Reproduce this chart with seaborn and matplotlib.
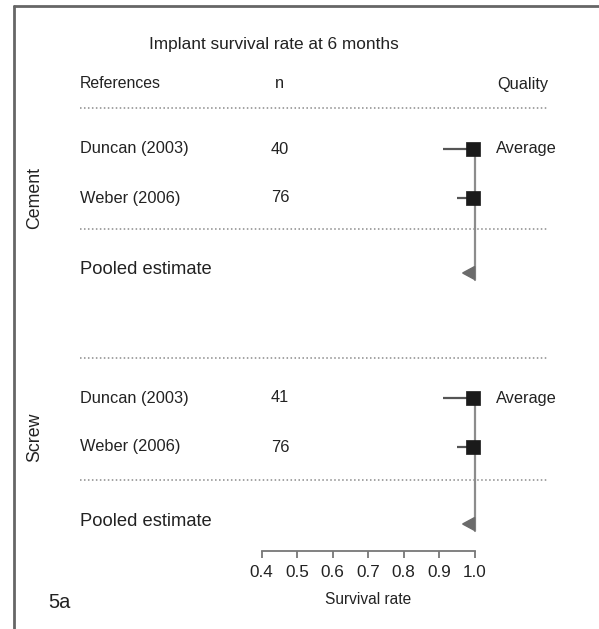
import matplotlib
matplotlib.use("Agg")
import matplotlib.pyplot as plt
import matplotlib.transforms as mtransforms
from matplotlib.lines import Line2D
from matplotlib.patches import Polygon
import numpy as np
import pandas as pd
import seaborn as sns

# ---- data ----
groups = ["Cement", "Screw"]
studies = ["Duncan (2003)", "Weber (2006)"]
n_cement = [40, 76]
n_screw = [41, 76]
est_cement = [0.996, 0.996]
lo_cement = [0.911, 0.951]
est_screw = [0.996, 0.996]
lo_screw = [0.912, 0.951]
hi_all = 1.0
pooled_lo = [0.966, 0.966]
pooled_hi = [1.0, 1.0]
quality = ["Average", ""]
xticks = [0.4, 0.5, 0.6, 0.7, 0.8, 0.9, 1.0]

sns.set_theme(style="white")
plt.rcParams["font.family"] = ["Liberation Sans", "DejaVu Sans"]

W, H = 599, 629
fig = plt.figure(figsize=(W / 100, H / 100), dpi=100)
ax = fig.add_axes([0, 0, 1, 1])

# x scale: 0.4 -> 261.7 px, 1.0 -> 474.7 px
ppu = 355.0
x0 = 0.4 - 261.7 / ppu
ax.set_xlim(x0, x0 + W / ppu)
ax.set_ylim(H, 0)

# layout rows (vertical positions)
y_header = 84
rows = {
    "Cement": dict(top_sep=108, study=[149, 198], bot_sep=229, pooled=273, label=198),
    "Screw": dict(top_sep=358, study=[398, 447], bot_sep=480, pooled=524, label=437),
}
y_axis = 551

tr = mtransforms.blended_transform_factory(ax.transAxes, ax.transData)
def fx(px):
    return px / W

txt_col = "#222222"
fs = 11.8

ax.text(fx(274), 44, "Implant survival rate at 6 months", transform=tr,
        ha="center", va="center", fontsize=12.4, color=txt_col)
ax.text(fx(80), y_header, "References", transform=tr, ha="left", va="center",
        fontsize=11.4, color=txt_col)
ax.text(fx(279), y_header, "n", transform=tr, ha="center", va="center",
        fontsize=fs, color=txt_col)
ax.text(fx(548), y_header, "Quality", transform=tr, ha="right", va="center",
        fontsize=fs, color=txt_col)

recs = []
for g, ns, est, lo in [("Cement", n_cement, est_cement, lo_cement),
                       ("Screw", n_screw, est_screw, lo_screw)]:
    for i, s in enumerate(studies):
        recs.append(dict(group=g, study=s, n=ns[i], est=est[i], lo=lo[i],
                         hi=hi_all, y=rows[g]["study"][i], quality=quality[i]))
df = pd.DataFrame(recs)

for gi, g in enumerate(groups):
    r = rows[g]
    for ysep in (r["top_sep"], r["bot_sep"]):
        ax.plot([fx(80), fx(548)], [ysep, ysep], transform=tr, color="#8a8a8a",
                lw=1.1, ls=(0, (1.0, 1.6)))
    # reference line at 1.0
    ax.plot([1.0, 1.0], [r["study"][0] - 5, r["pooled"] + 7], color="#8c8c8c",
            lw=1.6, zorder=2)
    ax.text(fx(35), r["label"], g, transform=tr, rotation=90, ha="center",
            va="center", fontsize=12.8, color=txt_col)
    ax.text(fx(80), r["pooled"] - 3, "Pooled estimate", transform=tr, ha="left",
            va="center", fontsize=13.2, color=txt_col)
    yp = r["pooled"]
    tri = Polygon([[pooled_lo[gi], yp], [pooled_hi[gi], yp - 6.5],
                   [pooled_hi[gi], yp + 6.5]], closed=True, color="#6b6b6b",
                  zorder=3)
    ax.add_patch(tri)

sub = df
ax.hlines(sub["y"], sub["lo"], sub["hi"], color="#555555", lw=1.6, zorder=2)
sns.scatterplot(data=sub, x="est", y="y", marker="s", s=100, color="#1a1a1a",
                edgecolor="#1a1a1a", linewidth=0.5, ax=ax, zorder=4, legend=False)
for _, row in sub.iterrows():
    ax.text(fx(80), row["y"], row["study"], transform=tr, ha="left", va="center",
            fontsize=fs, color=txt_col)
    ax.text(fx(271), row["y"], str(row["n"]), transform=tr, ha="left",
            va="center", fontsize=fs, color=txt_col)
    if row["quality"]:
        ax.text(fx(496), row["y"], row["quality"], transform=tr, ha="left",
                va="center", fontsize=fs, color=txt_col)

# x axis
for side in ["top", "right", "left"]:
    ax.spines[side].set_visible(False)
ax.spines["bottom"].set_visible(True)
ax.spines["bottom"].set_position(("data", y_axis))
ax.spines["bottom"].set_bounds(0.4, 1.0)
ax.spines["bottom"].set_color("#777777")
ax.spines["bottom"].set_linewidth(1.3)
ax.set_xticks(xticks)
ax.set_xticklabels([f"{t:.1f}" for t in xticks], fontsize=12.3, color=txt_col)
ax.tick_params(axis="x", direction="out", length=5, width=1.3, color="#777777",
               pad=5, bottom=True)
ax.set_yticks([])
ax.set_xlabel("")
ax.set_ylabel("")
ax.text(0.7, 599, "Survival rate", ha="center", va="center", fontsize=11.2,
        color=txt_col)
ax.patch.set_alpha(0)

# panel frame and label
frame_col = "#666666"
fig.add_artist(Line2D([fx(14), fx(14)], [0, 1 - 6 / H], transform=fig.transFigure,
                      color=frame_col, lw=2))
fig.add_artist(Line2D([fx(14), 1], [1 - 6 / H, 1 - 6 / H], transform=fig.transFigure,
                      color=frame_col, lw=2))
fig.text(fx(48), 1 - 602 / H, "5a", ha="left", va="center", fontsize=14.5,
         color=txt_col)

fig.savefig("out.png", dpi=100)
